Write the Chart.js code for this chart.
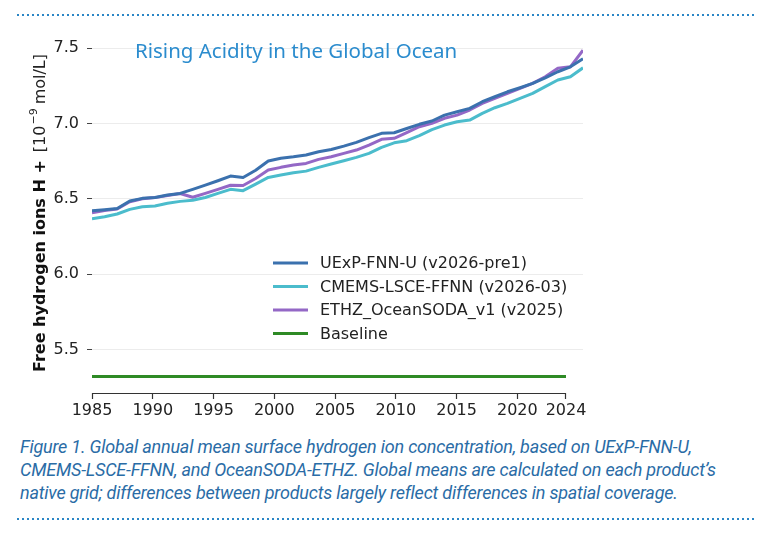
<!DOCTYPE html>
<html>
<head>
<meta charset="utf-8">
<script src="https://cdn.jsdelivr.net/npm/chart.js@4.4.1/dist/chart.umd.min.js"></script>
<style>
  body { margin: 0; background: #fff; width: 773px; height: 536px; overflow: hidden; position: relative; }
  .dots { position: absolute; left: 17px; width: 740px; height: 2px;
          background: repeating-linear-gradient(to right, #2a86c6 0 2px, transparent 2px 5px); }
  #wrap { position: absolute; left: 0; top: 0; width: 773px; height: 425px; }
  .caption { position: absolute; left: 20px; top: 435px; font: italic 18px Roboto; color: #2a6ca6;
             line-height: 23px; white-space: nowrap; letter-spacing: -0.2px; }
</style>
</head>
<body>
<div class="dots" style="top:14px"></div>
<div id="wrap"><canvas id="hplusChart"></canvas></div>
<div class="caption">Figure 1. Global annual mean surface hydrogen ion concentration, based on UExP-FNN-U,<br>CMEMS-LSCE-FFNN, and OceanSODA-ETHZ. Global means are calculated on each product’s<br>native grid; differences between products largely reflect differences in spatial coverage.</div>
<div class="dots" style="top:518px"></div>
<script>
// annual means, 10^-9 mol/L
const years = [1985, 1986, 1987, 1988, 1989, 1990, 1991, 1992, 1993, 1994,
               1995, 1996, 1997, 1998, 1999, 2000, 2001, 2002, 2003, 2004,
               2005, 2006, 2007, 2008, 2009, 2010, 2011, 2012, 2013, 2014,
               2015, 2016, 2017, 2018, 2019, 2020, 2021, 2022, 2023, 2024];
const uexp = [6.421, 6.428, 6.436, 6.485, 6.503, 6.509, 6.525, 6.536, 6.563, 6.591,
              6.620, 6.651, 6.642, 6.690, 6.751, 6.769, 6.779, 6.791, 6.813, 6.828,
              6.850, 6.875, 6.906, 6.935, 6.939, 6.967, 6.995, 7.017, 7.056, 7.078,
              7.101, 7.145, 7.178, 7.211, 7.238, 7.267, 7.304, 7.344, 7.377, 7.430];
const cmems = [6.368, 6.381, 6.399, 6.430, 6.447, 6.452, 6.470, 6.483, 6.490, 6.509,
               6.536, 6.563, 6.554, 6.598, 6.642, 6.658, 6.673, 6.684, 6.709, 6.731,
               6.753, 6.775, 6.802, 6.842, 6.872, 6.886, 6.920, 6.960, 6.990, 7.012,
               7.023, 7.068, 7.105, 7.134, 7.167, 7.200, 7.245, 7.289, 7.311, 7.370];
const ethz = [6.408, 6.422, 6.432, 6.480, 6.500, 6.508, 6.522, 6.535, 6.510, 6.536,
              6.563, 6.590, 6.588, 6.635, 6.691, 6.709, 6.724, 6.735, 6.762, 6.779,
              6.802, 6.824, 6.857, 6.895, 6.902, 6.940, 6.979, 7.001, 7.035, 7.056,
              7.090, 7.134, 7.167, 7.200, 7.234, 7.267, 7.311, 7.367, 7.377, 7.487];
const baselineYears = [1985, 2024];
const baselineValues = [5.32, 5.32];
const xTicks = [1985, 1990, 1995, 2000, 2005, 2010, 2015, 2020, 2024];

const pts = (xs, ys) => xs.map((x, i) => ({ x: x, y: ys[i] }));

// title, legend, rotated y label and trimmed bottom spine
const decorations = {
  id: 'decorations',
  afterDraw(chart) {
    const ctx = chart.ctx;
    const x = chart.scales.x;
    const bottom = chart.chartArea.bottom;
    ctx.save();

    ctx.strokeStyle = '#333';
    ctx.lineWidth = 1.2;
    ctx.beginPath();
    ctx.moveTo(x.getPixelForValue(1985), bottom + 0.5);
    ctx.lineTo(x.getPixelForValue(2024), bottom + 0.5);
    ctx.stroke();

    ctx.fillStyle = '#2b8cce';
    ctx.font = '20.5px "Noto Sans"';
    ctx.textBaseline = 'middle';
    ctx.fillText('Rising Acidity in the Global Ocean', 135, 52);

    ctx.font = '16px "DejaVu Sans"';
    chart.data.datasets.forEach((ds, i) => {
      const y = 263 + i * 23.5;
      ctx.strokeStyle = ds.borderColor;
      ctx.lineWidth = 3;
      ctx.beginPath();
      ctx.moveTo(273, y);
      ctx.lineTo(308, y);
      ctx.stroke();
      ctx.fillStyle = '#222';
      ctx.fillText(ds.label, 320, y + 1);
    });

    ctx.translate(41, 372);
    ctx.rotate(-Math.PI / 2);
    ctx.fillStyle = '#111';
    ctx.font = 'bold 16px "DejaVu Sans"';
    const bold = 'Free hydrogen ions H +';
    ctx.fillText(bold, 0, 0);
    let px = ctx.measureText(bold).width + 8;
    ctx.font = '16px "DejaVu Sans"';
    ctx.fillStyle = '#222';
    ctx.fillText('[10', px, 0);
    px += ctx.measureText('[10').width + 1;
    ctx.font = '11px "DejaVu Sans"';
    ctx.fillText('\u22129', px, -7);
    px += ctx.measureText('\u22129').width + 4;
    ctx.font = '16px "DejaVu Sans"';
    ctx.fillText('mol/L]', px, 0);
    ctx.restore();
  }
};

const ctx = document.getElementById('hplusChart');
const hplusChart = new Chart(ctx, {
  type: 'line',
  data: {
    datasets: [
      { label: 'UExP-FNN-U (v2026-pre1)', data: pts(years, uexp), xAxisID: 'xd',
        borderColor: '#3b71ae', borderWidth: 3 },
      { label: 'CMEMS-LSCE-FFNN (v2026-03)', data: pts(years, cmems), xAxisID: 'xd',
        borderColor: '#4bbccc', borderWidth: 3 },
      { label: 'ETHZ_OceanSODA_v1 (v2025)', data: pts(years, ethz), xAxisID: 'xd',
        borderColor: '#9468c6', borderWidth: 3 },
      { label: 'Baseline', data: pts(baselineYears, baselineValues), xAxisID: 'x',
        borderColor: '#2e8a25', borderWidth: 3 }
    ]
  },
  options: {
    responsive: true,
    maintainAspectRatio: false,
    devicePixelRatio: 1,
    animation: false,
    layout: { padding: { left: 0, right: 190, top: 40, bottom: 0 } },
    elements: {
      point: { radius: 0 },
      line: { tension: 0, borderJoinStyle: 'round', fill: false }
    },
    plugins: { legend: { display: false }, tooltip: { enabled: false } },
    scales: {
      x: {
        type: 'linear', position: 'bottom', min: 1985, max: 2025.4,
        afterBuildTicks: s => { s.ticks = xTicks.map(v => ({ value: v })); },
        afterFit: s => { s.height = 32; },
        ticks: { font: { family: 'DejaVu Sans', size: 16 }, color: '#222', padding: 2,
                 maxRotation: 0, callback: v => String(v) },
        grid: { drawOnChartArea: false, drawTicks: true, tickLength: 6, tickColor: '#333', tickWidth: 1.2 },
        border: { display: false }
      },
      xd: { type: 'linear', display: false, min: 1985, max: 2024 },
      y: {
        min: 5.21, max: 7.555,
        afterFit: s => { s.width = 92; },
        ticks: { stepSize: 0.5, includeBounds: false, font: { family: 'DejaVu Sans', size: 16 },
                 color: '#222', padding: 8, callback: v => v.toFixed(1) },
        grid: { color: '#ececec', lineWidth: 1, tickLength: 5, tickColor: '#444' },
        border: { display: false }
      }
    }
  },
  plugins: [decorations]
});
</script>
</body>
</html>
